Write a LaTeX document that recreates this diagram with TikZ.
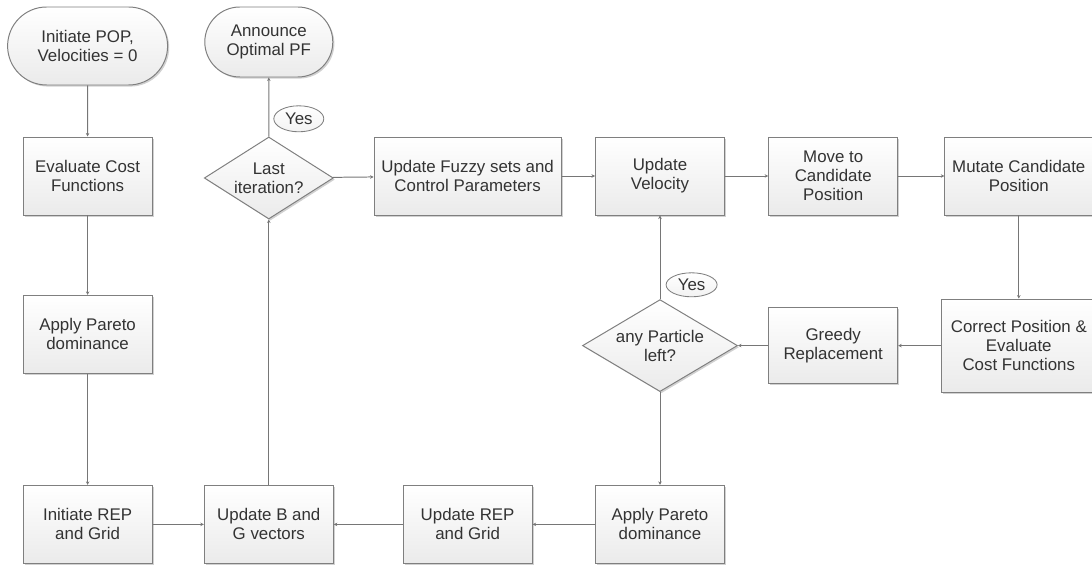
\documentclass[tikz,border=0pt]{standalone}
\usepackage{fontspec}
\setmainfont{Liberation Sans}
\usetikzlibrary{shapes.geometric,shapes.misc,shadows,arrows.meta}

\definecolor{linegray}{HTML}{767676}
\definecolor{boxgray}{HTML}{7F7F7F}
\definecolor{txtgray}{HTML}{333333}

\tikzset{
  base/.style={draw=boxgray, line width=0.7pt, top color=white, bottom color=gray!16,
    text=txtgray, align=center, inner sep=0pt,
    font=\fontsize{12}{13.5}\selectfont,
    drop shadow={shadow xshift=0.04cm, shadow yshift=-0.04cm, fill=black, opacity=0.18}},
  proc/.style={base, rectangle, minimum width=3.225cm, minimum height=1.95cm},
  term/.style={base, rounded rectangle},
  decide/.style={base, diamond, aspect=1.6},
  yeslbl/.style={draw=boxgray, line width=0.6pt, ellipse, top color=white, bottom color=gray!10,
    text=txtgray, inner sep=0pt, minimum width=1.25cm, minimum height=0.65cm,
    font=\fontsize{12}{13.5}\selectfont},
  flow/.style={draw=linegray, line width=0.7pt, -{Stealth[length=2.5pt,width=2.5pt]}}
}

\begin{document}
\begin{tikzpicture}
\useasboundingbox (0,0) rectangle (27.3,-14.125);

% start and end
\node[term, minimum width=4cm, minimum height=1.95cm] (pop) at (2.19,-1.15) {Initiate POP,\\Velocities = 0};
\node[term, minimum width=3.2cm, minimum height=1.75cm] (ann) at (6.72,-1.05) {Announce\\Optimal PF};

% top row
\node[proc] (evalc) at (2.19,-4.4) {Evaluate Cost\\Functions};
\node[decide, minimum width=3.225cm, minimum height=2.05cm] (last) at (6.72,-4.45) {Last\\iteration?};
\node[proc, minimum width=4.675cm] (fuzzy) at (11.69,-4.4) {Update Fuzzy sets and\\Control Parameters};
\node[proc] (vel) at (16.5,-4.4) {Update\\Velocity};
\node[proc] (move) at (20.83,-4.4) {Move to\\Candidate\\Position};
\node[proc, minimum width=3.7cm] (mut) at (25.47,-4.4) {Mutate Candidate\\Position};

% middle row
\node[proc] (pareto1) at (2.19,-8.36) {Apply Pareto\\dominance};
\node[decide, minimum width=3.875cm, minimum height=2.3cm] (part) at (16.5,-8.64) {any Particle\\left?};
\node[proc, minimum height=1.9cm] (greedy) at (20.83,-8.64) {Greedy\\Replacement};
\node[proc, minimum width=3.85cm, minimum height=2.325cm] (corr) at (25.47,-8.64) {Correct Position \&\\Evaluate\\Cost Functions};

% bottom row
\node[proc] (rep1) at (2.19,-13.11) {Initiate REP\\and Grid};
\node[proc] (upbg) at (6.72,-13.11) {Update B and\\G vectors};
\node[proc] (rep2) at (11.69,-13.11) {Update REP\\and Grid};
\node[proc] (pareto2) at (16.5,-13.11) {Apply Pareto\\dominance};

% yes labels
\node[yeslbl] (yes1) at (7.47,-2.97) {Yes};
\node[yeslbl, minimum width=1.275cm, minimum height=0.6cm] (yes2) at (17.29,-7.12) {Yes};

% connectors
\draw[flow] (pop) -- (evalc);
\draw[flow] (evalc) -- (pareto1);
\draw[flow] (pareto1) -- (rep1);
\draw[flow] (rep1) -- (upbg);
\draw[flow] (upbg) -- (last);
\draw[flow] (last) -- (ann);
\draw[flow] (last) -- (fuzzy);
\draw[flow] (fuzzy) -- (vel);
\draw[flow] (vel) -- (move);
\draw[flow] (move) -- (mut);
\draw[flow] (mut) -- (corr);
\draw[flow] (corr) -- (greedy);
\draw[flow] (greedy) -- (part);
\draw[flow] (part) -- (vel);
\draw[flow] (part) -- (pareto2);
\draw[flow] (pareto2) -- (rep2);
\draw[flow] (rep2) -- (upbg);

\end{tikzpicture}
\end{document}
